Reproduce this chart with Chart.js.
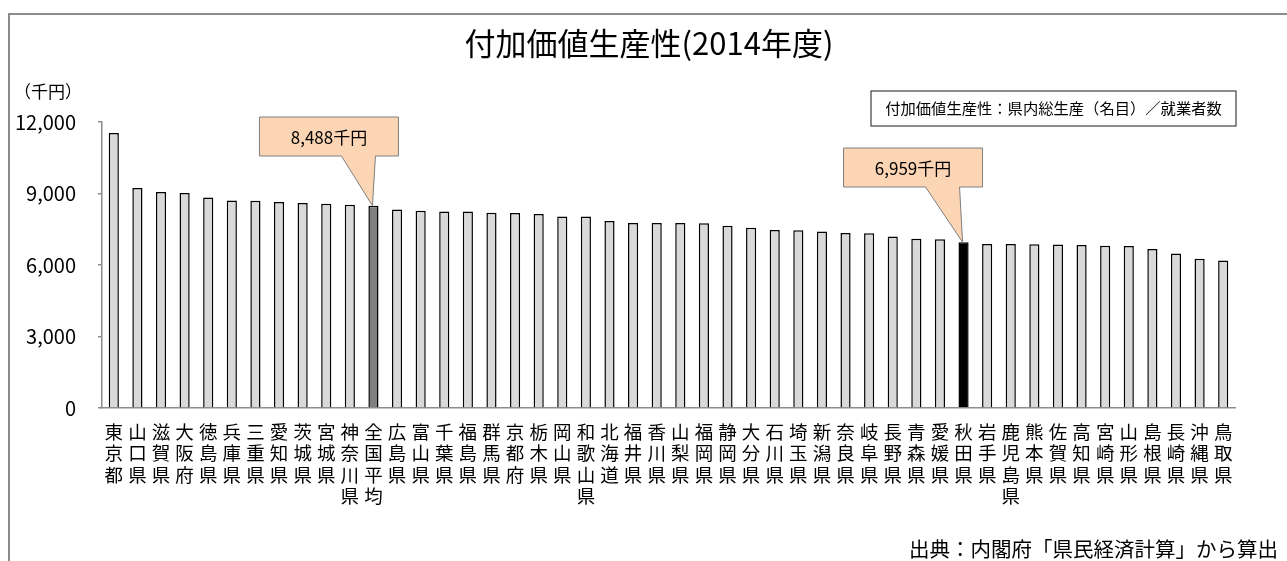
<!DOCTYPE html>
<html>
<head>
<meta charset="utf-8">
<script src="https://cdn.jsdelivr.net/npm/chart.js@4/dist/chart.umd.min.js"></script>
<style>
  html, body { margin: 0; padding: 0; background: #fff; overflow: hidden; }
  #wrap { position: relative; width: 1287px; height: 561px; }
</style>
</head>
<body>
<div id="wrap"><canvas id="productivityChart" width="1287" height="561"></canvas></div>
<script>
/* ================= DATA ================= */
const PREFS = [
    "東京都", "山口県", "滋賀県", "大阪府", "徳島県", "兵庫県", "三重県", "愛知県",
    "茨城県", "宮城県", "神奈川県", "全国平均", "広島県", "富山県", "千葉県", "福島県",
    "群馬県", "京都府", "栃木県", "岡山県", "和歌山県", "北海道", "福井県", "香川県",
    "山梨県", "福岡県", "静岡県", "大分県", "石川県", "埼玉県", "新潟県", "奈良県",
    "岐阜県", "長野県", "青森県", "愛媛県", "秋田県", "岩手県", "鹿児島県", "熊本県",
    "佐賀県", "高知県", "宮崎県", "山形県", "島根県", "長崎県", "沖縄県", "鳥取県"
];

const VALUES = [
    11538, 9231, 9063, 9021, 8836, 8711, 8699, 8643,
    8601, 8573, 8531, 8488, 8330, 8280, 8250, 8240,
    8195, 8180, 8140, 8040, 8030, 7846, 7765, 7760,
    7758, 7748, 7650, 7566, 7468, 7454, 7410, 7345,
    7335, 7200, 7104, 7076, 6959, 6885, 6880, 6875,
    6865, 6839, 6811, 6800, 6671, 6487, 6264, 6193
];

const Y_TICKS = [0, 3000, 6000, 9000, 12000];

const TITLE_TEXT = "付加価値生産性(2014年度)";
const UNIT_TEXT = "（千円）";
const NOTE_TEXT = "付加価値生産性：県内総生産（名目）／就業者数";
const SOURCE_TEXT = "出典：内閣府「県民経済計算」から算出";

const CALLOUT_PREFS = ["全国平均", "秋田県"];
const CALLOUT_LABELS = ["8,488千円", "6,959千円"];

/* ================= STYLE ================= */
const FONT = '"Noto Sans CJK JP", "Noto Sans", sans-serif';
const AXIS_GRAY = "#8c8c8c";

function barColor(name) {
    if (name === "全国平均") return "#808080";
    if (name === "秋田県") return "#000000";
    return "#d9d9d9";
}

/* ================= PLUGIN: frame, texts, callouts ================= */
const decorPlugin = {
    id: "decor",
    beforeDraw(chart) {
        const c = chart.ctx;
        c.save();
        c.fillStyle = "#fff";
        c.fillRect(0, 0, chart.width, chart.height);
        c.strokeStyle = AXIS_GRAY;
        c.lineWidth = 2;
        c.beginPath();
        c.moveTo(9, chart.height);
        c.lineTo(9, 14);
        c.lineTo(chart.width, 14);
        c.stroke();
        c.restore();
    },
    afterDraw(chart) {
        const c = chart.ctx;
        c.save();
        c.fillStyle = "#000";
        c.textBaseline = "middle";

        // title
        c.font = "31px " + FONT;
        c.textAlign = "center";
        c.fillText(TITLE_TEXT, 649, 43);

        // unit
        c.font = "17px " + FONT;
        c.textAlign = "left";
        c.fillText(UNIT_TEXT, 14, 92);

        // source
        c.font = "20.5px " + FONT;
        c.textAlign = "right";
        c.fillText(SOURCE_TEXT, 1278, 549);

        // note box
        c.fillStyle = "#fff";
        c.fillRect(871, 91, 365, 35);
        c.strokeStyle = "#404040";
        c.lineWidth = 1.2;
        c.strokeRect(871, 91, 365, 35);
        c.fillStyle = "#000";
        c.font = "15.3px " + FONT;
        c.textAlign = "center";
        c.fillText(NOTE_TEXT, 1053.5, 108.5);

        // callouts
        const meta = chart.getDatasetMeta(0);
        const boxes = [
            { dx: -114, top: 117, tailL: -32, tailR: 2 },
            { dx: -120, top: 148, tailL: -38, tailR: -4 }
        ];
        CALLOUT_PREFS.forEach((name, k) => {
            const bar = meta.data[PREFS.indexOf(name)];
            const b = boxes[k];
            const left = bar.x + b.dx, w = 139, h = 39;
            c.beginPath();
            c.moveTo(left, b.top);
            c.lineTo(left + w, b.top);
            c.lineTo(left + w, b.top + h);
            c.lineTo(bar.x + b.tailR, b.top + h);
            c.lineTo(bar.x - 1, bar.y);
            c.lineTo(bar.x + b.tailL, b.top + h);
            c.lineTo(left, b.top + h);
            c.closePath();
            c.fillStyle = "#fcd5b4";
            c.fill();
            c.strokeStyle = "#7f7f7f";
            c.lineWidth = 1;
            c.stroke();
            c.fillStyle = "#000";
            c.font = "17px " + FONT;
            c.textAlign = "center";
            c.fillText(CALLOUT_LABELS[k], left + w / 2, b.top + h / 2 + 1);
        });
        c.restore();
    }
};

/* ================= CHART ================= */
const ctx = document.getElementById("productivityChart");

new Chart(ctx, {
    type: "bar",
    data: {
        labels: PREFS.map(p => p.split("")),
        datasets: [{
            data: VALUES,
            backgroundColor: PREFS.map(barColor),
            borderColor: "#000",
            borderWidth: 1.5,
            categoryPercentage: 1,
            barPercentage: 0.43
        }]
    },
    options: {
        responsive: false,
        animation: false,
        devicePixelRatio: 1,
        layout: { padding: { top: 122, right: 52, left: 0, bottom: 0 } },
        plugins: {
            legend: { display: false },
            tooltip: { enabled: false }
        },
        scales: {
            x: {
                offset: true,
                grid: { display: false },
                border: { display: true, color: AXIS_GRAY, width: 1.5 },
                ticks: {
                    autoSkip: false,
                    maxRotation: 0,
                    minRotation: 0,
                    padding: 5,
                    color: "#000",
                    font: { family: FONT, size: 18.5, lineHeight: "21.5px" }
                },
                afterFit(s) { s.height = 153; }
            },
            y: {
                min: 0,
                max: 12000,
                afterBuildTicks(s) { s.ticks = Y_TICKS.map(v => ({ value: v })); },
                grid: {
                    drawOnChartArea: false,
                    drawTicks: true,
                    tickLength: 4,
                    color: AXIS_GRAY,
                    lineWidth: 1.5
                },
                border: { display: true, color: AXIS_GRAY, width: 1.5 },
                ticks: {
                    padding: 22,
                    color: "#000",
                    font: { family: FONT, size: 20 },
                    callback: v => v.toLocaleString("en-US")
                },
                afterFit(s) { s.width = 102; }
            }
        }
    },
    plugins: [decorPlugin]
});
</script>
</body>
</html>
